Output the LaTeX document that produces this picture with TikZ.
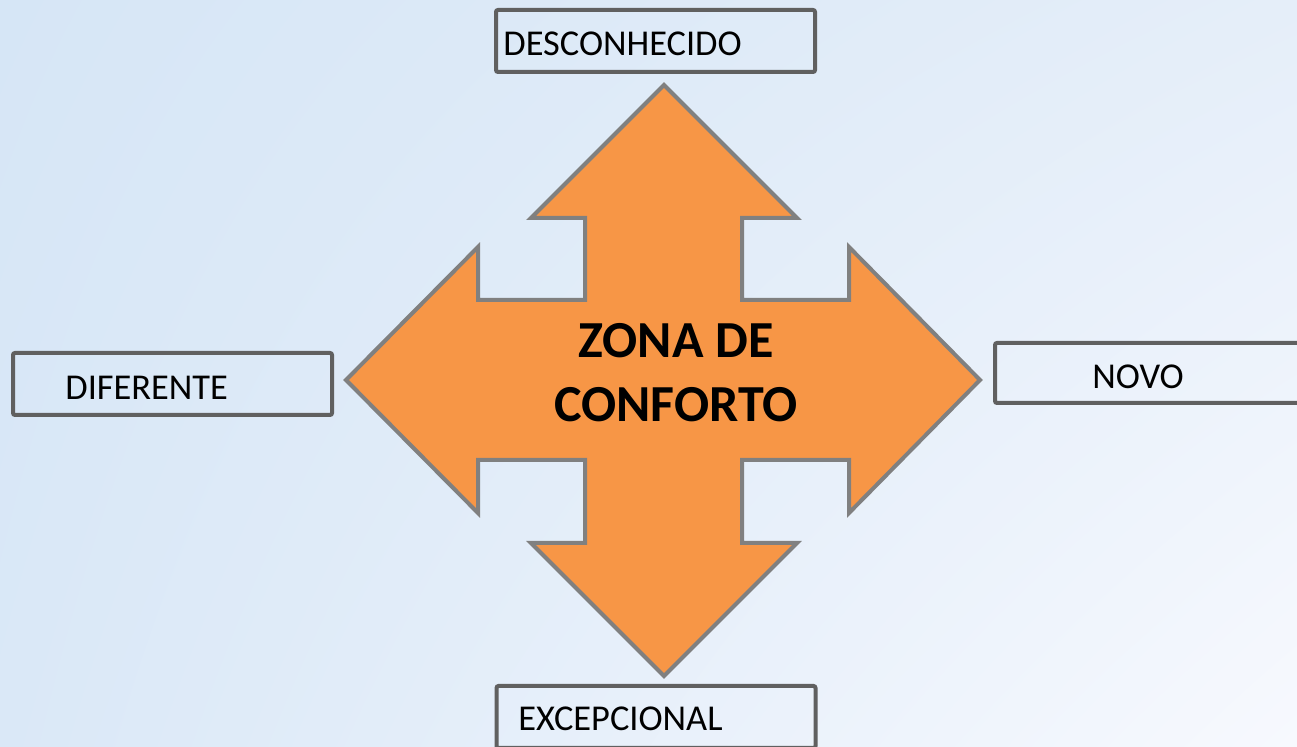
\documentclass[tikz,border=0pt]{standalone}
\usepackage{fontspec}
\setmainfont{Carlito}
\usetikzlibrary{shadings}
\definecolor{bgtl}{HTML}{D6E6F6}
\definecolor{bgtr}{HTML}{E5EEF9}
\definecolor{bgbl}{HTML}{DAE8F7}
\definecolor{bgbr}{HTML}{F7F9FE}
\definecolor{zonefill}{HTML}{F79646}
\definecolor{zoneline}{HTML}{808080}
\definecolor{boxline}{HTML}{606060}
\begin{document}
\begin{tikzpicture}[x=0.5pt, y=-0.5pt,
    box/.style={draw=boxline, line width=2pt, rounded corners=1pt,
        minimum width=159.5pt, minimum height=31pt, inner sep=0pt},
    lbl/.style={inner sep=0pt, anchor=west,
        font=\fontsize{18.2}{21.8}\selectfont}]
    \useasboundingbox (0, 0) rectangle (1297, 747);
    \clip (0, 0) rectangle (1297, 747);
    \shade[upper left=bgtl, upper right=bgtr, lower left=bgbl,
        lower right=bgbr] (0, 0) rectangle (1297, 747);
    % the four-way arrow
    \draw[fill=zonefill, draw=zoneline, line width=2pt, line join=miter]
        (664, 85) -- (797, 218) -- (742, 218) -- (742, 300) -- (849, 300)
        -- (849, 247) -- (980, 380) -- (849, 513) -- (849, 460)
        -- (742, 460) -- (742, 543) -- (797, 543) -- (664, 676)
        -- (531, 543) -- (585, 543) -- (585, 460) -- (478, 460)
        -- (478, 513) -- (346, 380) -- (478, 247) -- (478, 300)
        -- (585, 300) -- (585, 218) -- (531, 218) -- cycle;
    \node[inner sep=0pt, align=center,
        font=\fontsize{26}{32}\selectfont\bfseries] (zona)
        at (676, 373) {ZONA DE\\CONFORTO};
    % boxes
    \node[box] (dsc) at (655.5, 41) {};
    \node[box] (dif) at (172.5, 384) {};
    \node[box, minimum width=162.5pt, minimum height=30pt] (nov)
        at (1157.5, 373) {};
    \node[box] (exc) at (656, 717) {};
    \node[lbl] (dsclbl) at (503, 44) {DESCONHECIDO};
    \node[lbl] (diflbl) at (65, 388) {DIFERENTE};
    \node[lbl] (novlbl) at (1092, 377) {NOVO};
    \node[lbl] (exclbl) at (518, 719) {EXCEPCIONAL};
\end{tikzpicture}
\end{document}
